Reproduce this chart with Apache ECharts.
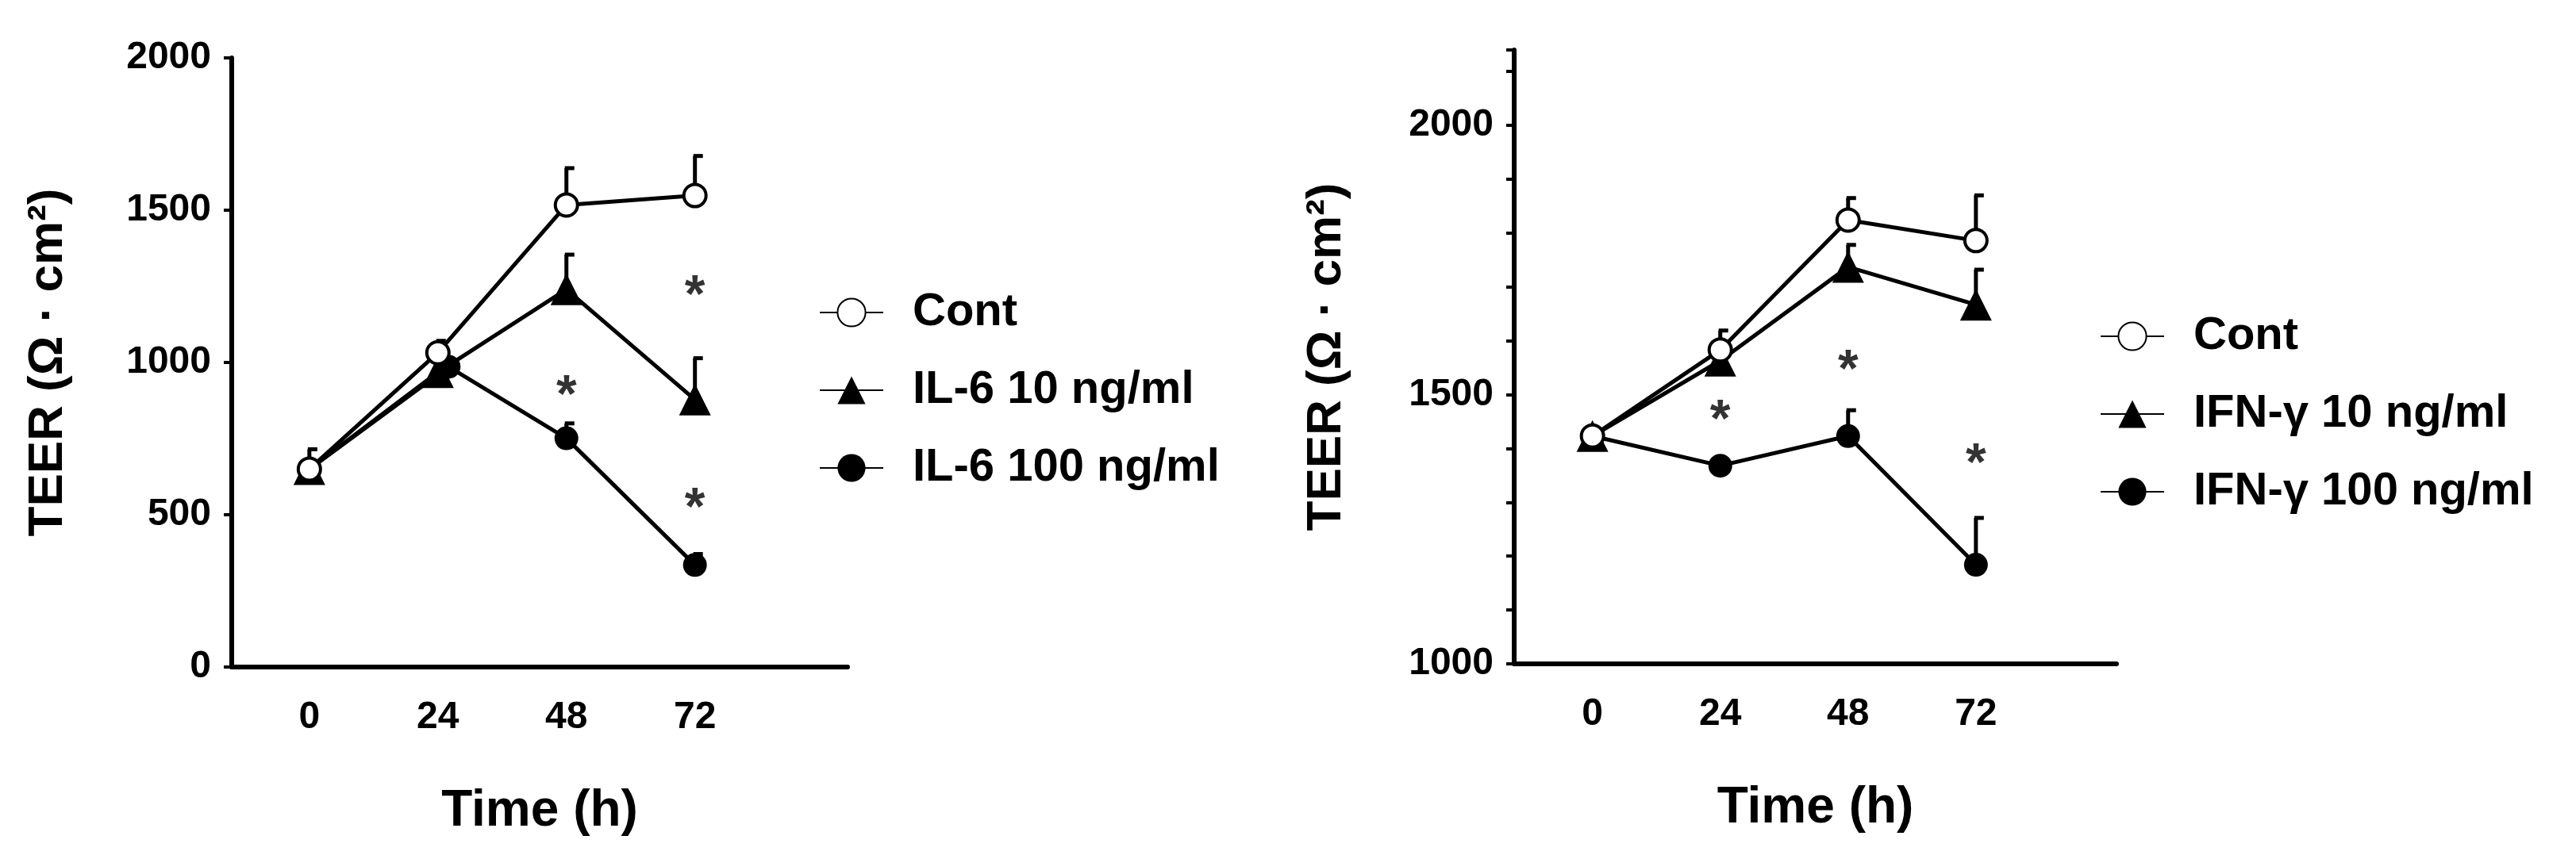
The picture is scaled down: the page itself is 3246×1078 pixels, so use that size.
<!DOCTYPE html>
<html>
<head>
<meta charset="utf-8">
<script src="https://cdn.jsdelivr.net/npm/echarts@6/dist/echarts.min.js"></script>
<style>
  html, body { margin: 0; padding: 0; background: #fff; }
  #chart { width: 3246px; height: 1078px; }
</style>
</head>
<body>
<div id="chart"></div>
<script>
// 时间点
const hours = [0, 24, 48, 72];

// 左图 IL-6
const il6Cont = [650, 1032, 1517, 1548];
const il6ContErr = [715, 1071, 1638, 1678];
const il6Low = [650, 968, 1240, 878];
const il6LowErr = [650, 968, 1354, 1014];
const il6High = [650, 986, 751, 335];
const il6HighErr = [650, 986, 800, 371];
const il6Stars = [[48, 887], [72, 1213], [72, 516]];

// 右图 IFN-γ
const ifnCont = [1423, 1583, 1824, 1786];
const ifnContErr = [1423, 1619, 1865, 1870];
const ifnLow = [1423, 1563, 1737, 1667];
const ifnLowErr = [1423, 1563, 1778, 1732];
const ifnHigh = [1423, 1368, 1423, 1184];
const ifnHighErr = [1423, 1368, 1471, 1271];
const ifnStars = [[24, 1450], [48, 1542], [72, 1368]];

const FONT = '"Liberation Sans Narrow", "Liberation Sans", Arial, sans-serif';
const FONT_W = '"Liberation Sans", Arial, sans-serif';

const pairs = (vals, xs) => (xs || hours).map((h, i) => [h, vals[i]]);

function errSeries(idx, vals, tops, xs) {
    const data = (xs || hours).map((h, i) => [h, vals[i], tops[i]]);
    return {
        type: 'custom', xAxisIndex: idx, yAxisIndex: idx, z: 1, silent: true,
        data: data,
        renderItem: function (params, api) {
            const lo = api.coord([api.value(0), api.value(1)]);
            const hi = api.coord([api.value(0), api.value(2)]);
            if (Math.abs(lo[1] - hi[1]) < 2) return null;
            const st = { stroke: '#000', lineWidth: 5 };
            return {
                type: 'group', children: [
                    { type: 'line', shape: { x1: lo[0], y1: lo[1], x2: hi[0], y2: hi[1] }, style: st },
                    { type: 'line', shape: { x1: hi[0] - 2, y1: hi[1], x2: hi[0] + 10, y2: hi[1] }, style: st }
                ]
            };
        }
    };
}

function lineSeries(idx, name, vals, symbol, size, fill, xs) {
    return {
        type: 'line', name: name, xAxisIndex: idx, yAxisIndex: idx, z: 3,
        data: pairs(vals, xs), symbol: symbol, symbolSize: size,
        lineStyle: { color: '#000', width: 5 },
        itemStyle: { color: fill, borderColor: '#000', borderWidth: fill === '#fff' ? 4 : 0 },
        emphasis: { disabled: true }
    };
}

function starSeries(idx, pts) {
    return {
        type: 'scatter', xAxisIndex: idx, yAxisIndex: idx, symbolSize: 0, data: pts,
        label: { show: true, formatter: '*', position: 'inside', fontSize: 66, fontWeight: 'bold', color: '#000', fontFamily: FONT_W }
    };
}

const axisText = { color: '#000', fontSize: 48, fontWeight: 'bold', fontFamily: FONT };

function xAxis(idx, min, max) {
    return {
        type: 'value', gridIndex: idx, min: min, max: max,
        splitLine: { show: false },
        axisLine: { lineStyle: { color: '#000', width: 6 } },
        axisTick: { show: false },
        axisLabel: Object.assign({ customValues: hours, margin: 40 }, axisText),
        name: 'Time (h)', nameLocation: 'middle', nameGap: 150,
        nameTextStyle: { color: '#000', fontSize: 64, fontWeight: 'bold', fontFamily: FONT }
    };
}

function yAxis(idx, min, max, interval, labelStep) {
    return {
        type: 'value', gridIndex: idx, min: min, max: max, interval: interval,
        splitLine: { show: false },
        axisLine: { show: true, onZero: false, lineStyle: { color: '#000', width: 6 } },
        axisTick: { show: true, length: 10, lineStyle: { color: '#000', width: 4 } },
        axisLabel: Object.assign({
            margin: 26, showMaxLabel: true,
            formatter: v => (v % labelStep === 0 ? String(v) : '')
        }, axisText),
        name: 'TEER (Ω · cm²)', nameLocation: 'middle', nameRotate: 90,
        nameTextStyle: { color: '#000', fontSize: 62, fontWeight: 'bold', fontFamily: FONT_W }
    };
}

const legendText = { color: '#000', fontSize: 58, fontWeight: 'bold', fontFamily: FONT, padding: [0, 0, 0, 32] };

const chart = echarts.init(document.getElementById('chart'));
chart.setOption({
    backgroundColor: '#fff',
    animation: false,
    grid: [
        { left: 292, top: 73, width: 776, height: 768 },
        { left: 1908, top: 63, width: 759, height: 774 }
    ],
    xAxis: [xAxis(0, -14.5, 100.5), xAxis(1, -14.7, 98.4)],
    yAxis: [
        Object.assign(yAxis(0, 0, 2000, 500, 500), { nameGap: 200 }),
        Object.assign(yAxis(1, 1000, 2140, 100, 500), { nameGap: 205 })
    ],
    legend: [
        {
            data: ['Cont', 'IL-6 10 ng/ml', 'IL-6 100 ng/ml'],
            orient: 'vertical', left: 1027, top: 360, itemGap: 40,
            itemWidth: 80, itemHeight: 44, textStyle: legendText, selectedMode: false
        },
        {
            data: ['Cont ', 'IFN-γ 10 ng/ml', 'IFN-γ 100 ng/ml'],
            orient: 'vertical', left: 2641, top: 390, itemGap: 40,
            itemWidth: 80, itemHeight: 44, textStyle: legendText, selectedMode: false
        }
    ],
    series: [
        errSeries(0, il6Cont, il6ContErr),
        errSeries(0, il6Low, il6LowErr),
        errSeries(0, il6High, il6HighErr),
        lineSeries(0, 'IL-6 10 ng/ml', il6Low, 'triangle', 40, '#000'),
        lineSeries(0, 'IL-6 100 ng/ml', il6High, 'circle', 30, '#000', [0, 26, 48, 72]),
        lineSeries(0, 'Cont', il6Cont, 'circle', 28, '#fff'),
        starSeries(0, il6Stars),
        errSeries(1, ifnCont, ifnContErr),
        errSeries(1, ifnLow, ifnLowErr),
        errSeries(1, ifnHigh, ifnHighErr),
        lineSeries(1, 'IFN-γ 10 ng/ml', ifnLow, 'triangle', 40, '#000'),
        lineSeries(1, 'IFN-γ 100 ng/ml', ifnHigh, 'circle', 30, '#000'),
        lineSeries(1, 'Cont ', ifnCont, 'circle', 28, '#fff'),
        starSeries(1, ifnStars)
    ]
});
</script>
</body>
</html>
